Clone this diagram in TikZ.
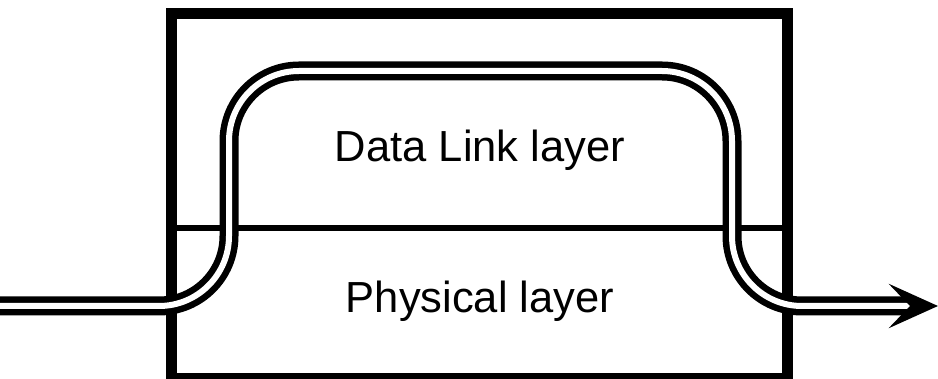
\documentclass[tikz,border=0pt]{standalone}
\usepackage{fontspec}
\setmainfont{Liberation Sans}
\usepackage{tikz}
\usetikzlibrary{arrows.meta}
\tikzset{
	layertext/.style={anchor=base, font=\fontsize{43.5}{50}\selectfont},
	pipe/.style={double, double distance=6pt, line width=6.5pt, rounded corners=70pt}
}

\begin{document}
\begin{tikzpicture}[x=1pt,y=-1pt]
				\useasboundingbox (0,0) rectangle (938,379);
				\draw[line width=11pt] (171.5,14) rectangle (787,378.5);
				\draw[line width=6.5pt] (171.5,228) -- (787,228);
				\node[layertext] (dll) at (480,162) {Data Link layer};
				\node[layertext] (phy) at (480,313) {Physical layer};
				\coordinate (in) at (0,306);
				\coordinate (out) at (938,306);
				\draw[pipe,-{Stealth[length=49pt,width=44pt,inset=21pt]}] (in) -- (229,306) -- (229,71) -- (732,71) -- (732,306) -- (out);
			\end{tikzpicture}
\end{document}
